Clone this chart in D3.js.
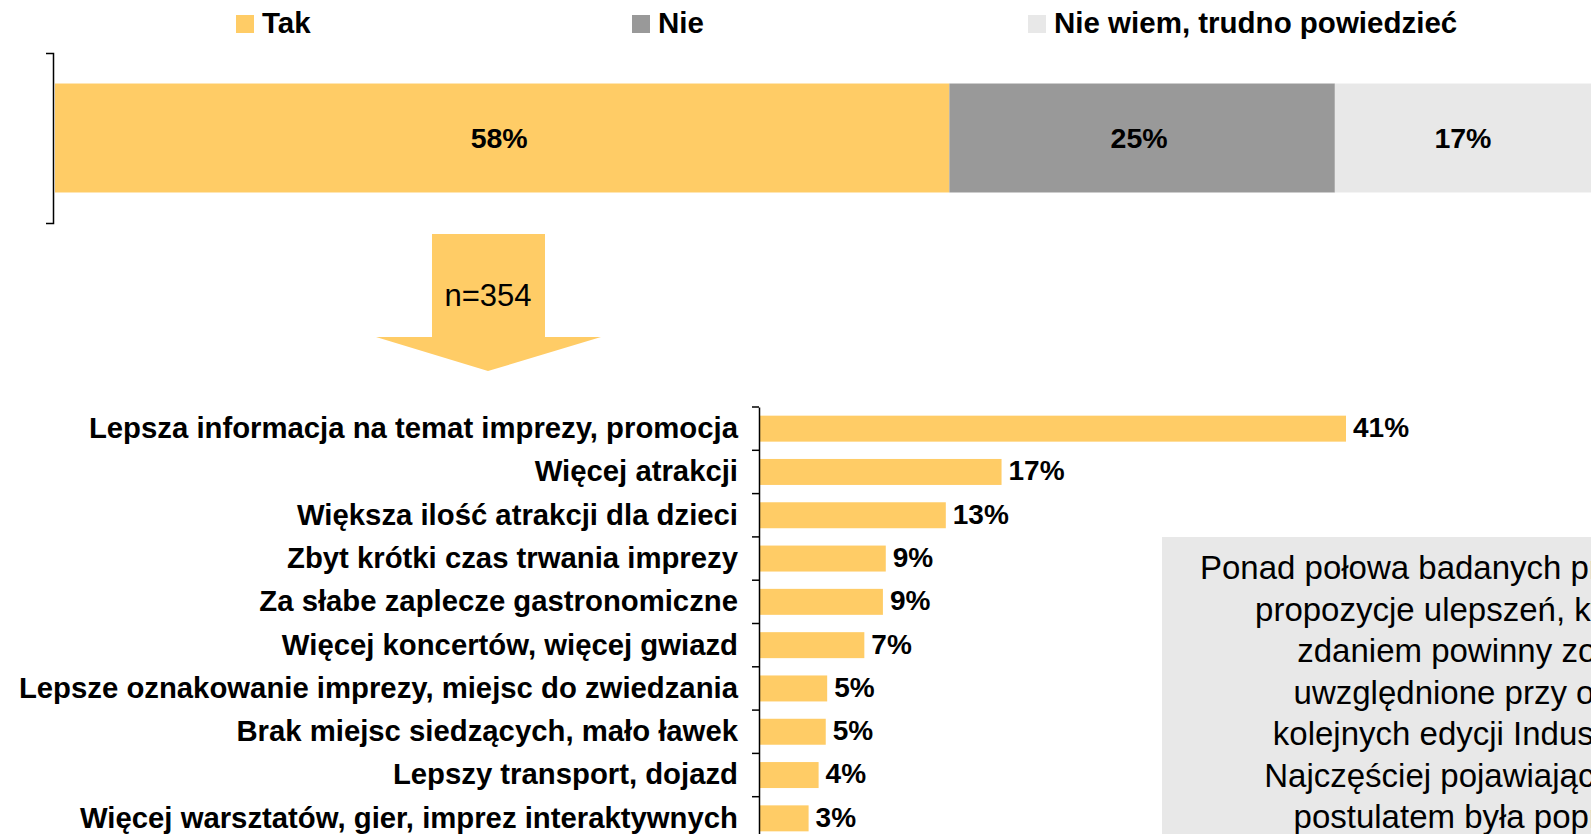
<!DOCTYPE html>
<html>
<head>
<meta charset="utf-8">
<script src="https://cdn.jsdelivr.net/npm/d3@7"></script>
<style>
  body { margin: 0; background: #fff; overflow: hidden; }
  svg text { font-family: "Liberation Sans", Arial, sans-serif; }
</style>
</head>
<body>
<div id="chart"></div>
<script>
// top stacked bar
var answers = ["Tak", "Nie", "Nie wiem, trudno powiedzieć"]
var answerValues = [58, 25, 17]
var answerColors = ["#FFCC66", "#999999", "#E8E8E8"]

// improvements (n=354)
var categories = [
  "Lepsza informacja na temat imprezy, promocja",
  "Więcej atrakcji",
  "Większa ilość atrakcji dla dzieci",
  "Zbyt krótki czas trwania imprezy",
  "Za słabe zaplecze gastronomiczne",
  "Więcej koncertów, więcej gwiazd",
  "Lepsze oznakowanie imprezy, miejsc do zwiedzania",
  "Brak miejsc siedzących, mało ławek",
  "Lepszy transport, dojazd",
  "Więcej warsztatów, gier, imprez interaktywnych"
]
var values = [41, 16.9, 13, 8.8, 8.6, 7.3, 4.7, 4.6, 4.1, 3.4]

var sampleLabel = "n=354"
var noteLines = [
  "Ponad połowa badanych przedstawiła",
  "propozycje ulepszeń, które ich",
  "zdaniem powinny zostać",
  "uwzględnione przy okazji",
  "kolejnych edycji Industriady.",
  "Najczęściej pojawiającym się",
  "postulatem była poprawa"
]

var width = 1591, height = 834
var svg = d3.select("#chart")
  .append("svg")
  .attr("width", width)
  .attr("height", height)

// legend
var legendX = d3.scaleBand().domain(answers).range([236, 236 + 396 * 3])
var legend = svg.selectAll(".legend")
  .data(answers)
  .enter()
  .append("g")
  .attr("transform", function(d) { return "translate(" + legendX(d) + ",0)" })
legend.append("rect")
  .attr("x", 0).attr("y", 15)
  .attr("width", 18).attr("height", 18)
  .style("fill", function(d, i) { return answerColors[i] })
legend.append("text")
  .attr("x", 26).attr("y", 33)
  .style("font-size", "29.5px")
  .style("font-weight", "bold")
  .text(function(d) { return d })

// stacked bar
var stack = []
var acc = 0
answerValues.forEach(function(v, i) {
  stack.push({ key: answers[i], x0: acc, x1: acc + v, v: v, color: answerColors[i] })
  acc += v
})
var xTop = d3.scaleLinear().domain([0, 100]).range([55, 1597])
var yTop = d3.scaleBand().domain(["all"]).range([53, 223]).paddingInner(0).paddingOuter(0.28)

svg.append("g")
  .attr("transform", "translate(53,0)")
  .call(d3.axisLeft(yTop).tickSize(0).tickSizeOuter(7).tickFormat(""))
  .select(".domain").style("stroke", "#000").style("stroke-width", 1.5)

svg.selectAll(".seg")
  .data(stack)
  .enter()
  .append("rect")
  .attr("x", function(d) { return xTop(d.x0) })
  .attr("y", yTop("all"))
  .attr("width", function(d) { return xTop(d.x1) - xTop(d.x0) })
  .attr("height", yTop.bandwidth())
  .style("fill", function(d) { return d.color })

svg.selectAll(".segLabel")
  .data(stack)
  .enter()
  .append("text")
  .attr("x", function(d) { return (xTop(d.x0) + xTop(d.x1)) / 2 - 3 })
  .attr("y", yTop("all") + yTop.bandwidth() / 2)
  .attr("dy", "0.36em")
  .attr("text-anchor", "middle")
  .style("font-size", "28.5px")
  .style("font-weight", "bold")
  .text(function(d) { return d.v + "%" })

// arrow with n
var arrow = d3.path()
arrow.moveTo(432, 234)
arrow.lineTo(545, 234)
arrow.lineTo(545, 337)
arrow.lineTo(601, 337)
arrow.lineTo(488, 371)
arrow.lineTo(376, 337)
arrow.lineTo(432, 337)
arrow.closePath()
svg.append("path").attr("d", arrow.toString()).style("fill", "#FFCC66")
svg.append("text")
  .attr("x", 488).attr("y", 306)
  .attr("text-anchor", "middle")
  .style("font-size", "31px")
  .text(sampleLabel)

// note box
svg.append("rect")
  .attr("x", 1162).attr("y", 537)
  .attr("width", 700).attr("height", 400)
  .style("fill", "#E8E8E8")
svg.append("text")
  .attr("text-anchor", "middle")
  .style("font-size", "33px")
  .selectAll("tspan")
  .data(noteLines)
  .enter()
  .append("tspan")
  .attr("x", 1477)
  .attr("y", function(d, i) { return 579 + i * 41.5 })
  .text(function(d) { return d })

// horizontal bar chart
var x = d3.scaleLinear().domain([0, 41]).range([760, 1346])
var y = d3.scaleBand().domain(categories).range([407, 407 + 43.3 * categories.length])
  .paddingInner(0.4).paddingOuter(0.2)

svg.selectAll(".bar")
  .data(categories)
  .enter()
  .append("rect")
  .attr("x", x(0))
  .attr("y", function(d) { return y(d) })
  .attr("width", function(d, i) { return x(values[i]) - x(0) })
  .attr("height", y.bandwidth())
  .style("fill", "#FFCC66")

svg.selectAll(".val")
  .data(categories)
  .enter()
  .append("text")
  .attr("x", function(d, i) { return x(values[i]) + 7 })
  .attr("y", function(d) { return y(d) + y.bandwidth() / 2 })
  .attr("dy", "0.3em")
  .style("font-size", "28px")
  .style("font-weight", "bold")
  .text(function(d, i) { return Math.round(values[i]) + "%" })

var yAxis = svg.append("g")
  .attr("transform", "translate(759,0)")
  .call(d3.axisLeft(y).tickSize(0).tickSizeOuter(0).tickPadding(21))
yAxis.select(".domain").style("stroke", "#000").style("stroke-width", 1.5)
yAxis.selectAll("text")
  .style("font-size", "29.3px")
  .style("font-weight", "bold")
  .style("fill", "#000")

// ticks between categories
svg.selectAll(".sep")
  .data(categories)
  .enter()
  .append("line")
  .attr("x1", 752).attr("x2", 759)
  .attr("y1", function(d) { return y(d) - y.step() * 0.2 })
  .attr("y2", function(d) { return y(d) - y.step() * 0.2 })
  .style("stroke", "#000")
  .style("stroke-width", 1.5)
</script>
</body>
</html>
